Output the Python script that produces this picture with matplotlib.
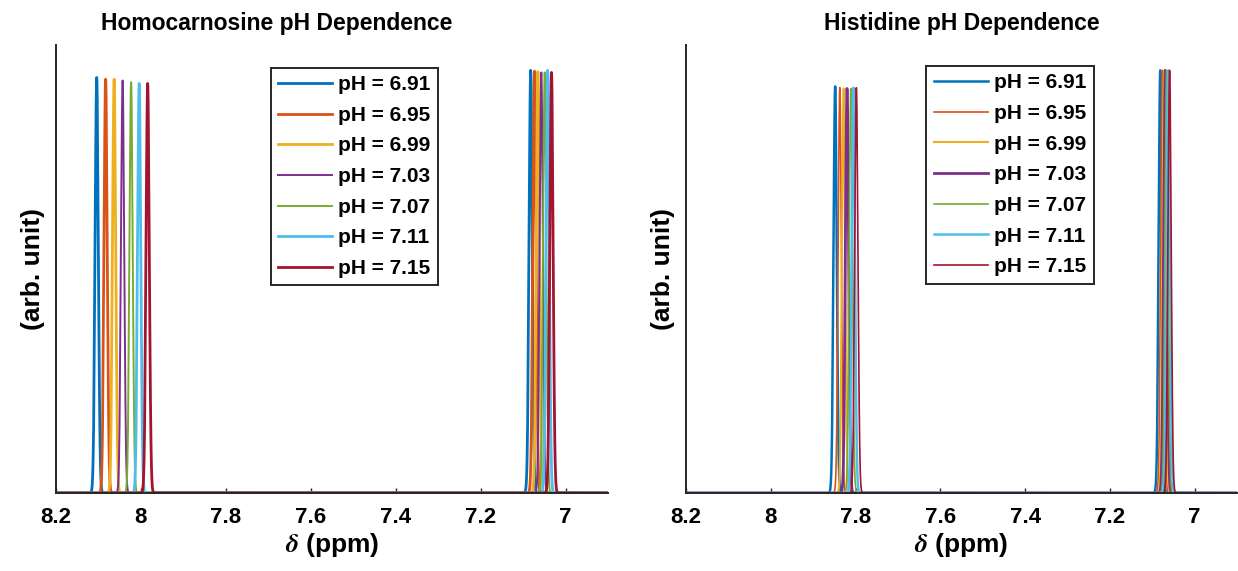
import numpy as np
import matplotlib
matplotlib.use("Agg")
import matplotlib.pyplot as plt

plt.rcParams["font.family"] = ["Liberation Sans", "DejaVu Sans"]
plt.rcParams["font.weight"] = "bold"
plt.rcParams["mathtext.fontset"] = "stix"

# pH series and the MATLAB default colour order
ph_values = [6.91, 6.95, 6.99, 7.03, 7.07, 7.11, 7.15]
colors = ["#0072BD", "#D95319", "#EDB120", "#7E2F8E", "#77AC30", "#4DBEEE", "#A2142F"]

# Homocarnosine: imidazole C2-H and C4-H peak positions (ppm) and heights
homo_c2_ppm = [8.104, 8.083, 8.063, 8.043, 8.023, 8.004, 7.984]
homo_c2_amp = [0.983, 0.979, 0.979, 0.976, 0.972, 0.969, 0.969]
homo_c4_ppm = [7.082, 7.073, 7.065, 7.057, 7.049, 7.042, 7.033]
homo_c4_amp = [1.000, 0.998, 0.997, 0.995, 0.995, 1.000, 0.995]
homo_lw = [2.0, 2.0, 2.0, 1.4, 1.4, 2.0, 2.0]

# Histidine: same two ring protons
his_c2_ppm = [7.848, 7.837, 7.828, 7.820, 7.811, 7.805, 7.798]
his_c2_amp = [0.962, 0.959, 0.957, 0.957, 0.957, 0.959, 0.959]
his_c4_ppm = [7.081, 7.076, 7.072, 7.069, 7.066, 7.062, 7.059]
his_c4_amp = [1.000, 1.000, 1.000, 1.000, 1.000, 1.000, 1.000]
his_lw = [1.8, 1.2, 1.5, 2.0, 1.2, 1.8, 1.2]

linewidth_ppm = 0.0038
ppm_axis = np.linspace(6.8, 8.3, 6001)


def spectrum(centers, amps):
    y = np.zeros_like(ppm_axis)
    for c, a in zip(centers, amps):
        y += a * np.exp(-0.5 * ((ppm_axis - c) / linewidth_ppm) ** 2)
    return y


def draw_panel(ax, title, c2_ppm, c2_amp, c4_ppm, c4_amp, lws, legend_xy, title_x):
    for i, ph in enumerate(ph_values):
        y = spectrum([c2_ppm[i], c4_ppm[i]], [c2_amp[i], c4_amp[i]])
        ax.plot(ppm_axis, y, color=colors[i], lw=lws[i], label=f"pH = {ph:.2f}")
    ax.set_xlim(8.2, 6.9)
    ax.set_ylim(0, 1.06)
    ax.set_xticks([8.2, 8.0, 7.8, 7.6, 7.4, 7.2, 7.0])
    ax.set_xticklabels(["8.2", "8", "7.8", "7.6", "7.4", "7.2", "7"])
    ax.set_yticks([])
    ax.tick_params(axis="x", direction="in", length=3.5, width=1.0,
                   labelsize=16, pad=10, colors="#262626", labelcolor="black")
    for s in ["top", "right"]:
        ax.spines[s].set_visible(False)
    for s in ["left", "bottom"]:
        ax.spines[s].set_color("#262626")
        ax.spines[s].set_linewidth(1.4)
    ax.set_title(title, fontsize=16.5, fontweight="bold", pad=11, x=title_x)
    ax.set_xlabel(r"$\delta$ (ppm)", fontsize=19, fontweight="bold", labelpad=2)
    ax.set_ylabel("(arb. unit)", fontsize=19, fontweight="bold", labelpad=8)
    leg = ax.legend(loc="upper left", bbox_to_anchor=legend_xy, borderaxespad=0,
                    fontsize=15, handlelength=2.6, handletextpad=0.3,
                    labelspacing=0.56, borderpad=0.35, fancybox=False,
                    framealpha=1, edgecolor="#262626")
    leg.get_frame().set_linewidth(1.4)


fig = plt.figure(figsize=(12.38, 5.71), dpi=100)
ax1 = fig.add_axes([0.0452, 0.1366, 0.4459, 0.7846])
ax2 = fig.add_axes([0.5541, 0.1366, 0.4451, 0.7846])

draw_panel(ax1, "Homocarnosine pH Dependence", homo_c2_ppm, homo_c2_amp,
           homo_c4_ppm, homo_c4_amp, homo_lw, (0.389, 0.949), 0.40)
draw_panel(ax2, "Histidine pH Dependence", his_c2_ppm, his_c2_amp,
           his_c4_ppm, his_c4_amp, his_lw, (0.436, 0.953), 0.5)

fig.savefig("out.png", dpi=100)
